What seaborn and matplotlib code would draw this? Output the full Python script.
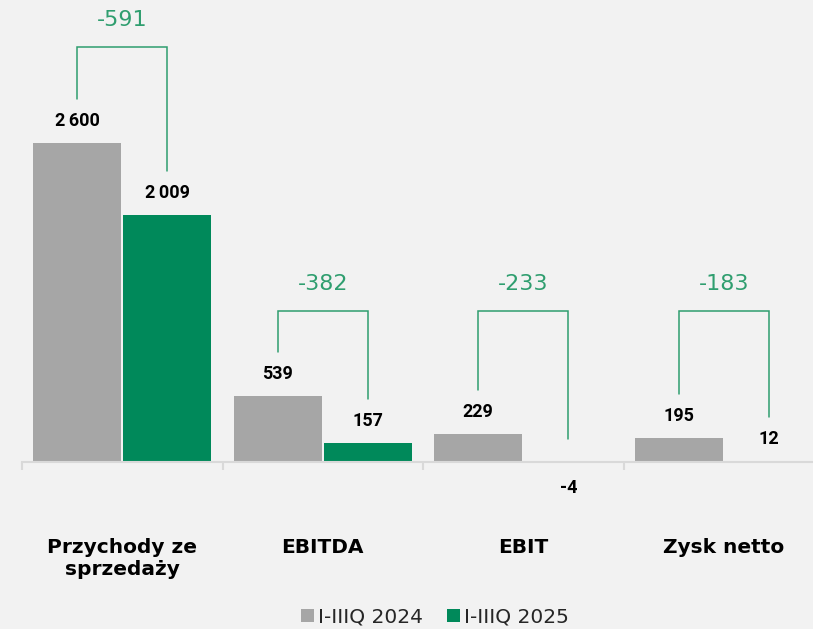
"""
Porownanie wynikow I-IIIQ 2024 vs I-IIIQ 2025 (mln zl) - wykres slupkowy z roznicami.
"""

## Import packages
import pandas as pd
import matplotlib.pyplot as plt
import seaborn as sns


## Data
categories = ['Przychody ze\nsprzedaży', 'EBITDA', 'EBIT', 'Zysk netto']
series = ['I-IIIQ 2024', 'I-IIIQ 2025']
values_2024 = [2600, 539, 229, 195]
values_2025 = [2009, 157, -4, 12]

# Long format table for seaborn
df = pd.DataFrame({
    'kategoria': categories * 2,
    'okres': [series[0]] * len(categories) + [series[1]] * len(categories),
    'wartosc': values_2024 + values_2025,
})


## Style
bg = '#f2f2f2'
gray = '#a6a6a6'
green = '#00895a'
bracket_green = '#2f9e6f'
axis_gray = '#d9d9d9'

sns.set_style('white')
plt.rcParams['font.family'] = ['DejaVu Sans']
value_font = ['Roboto', 'DejaVu Sans']


## Figure
fig = plt.figure(figsize=(8.13, 6.29), dpi=100, facecolor=bg)
ax = fig.add_axes([22 / 813, 167 / 629, 802 / 813, 462 / 629])
ax.set_facecolor(bg)

sns.barplot(ax=ax, data=df, x='kategoria', y='wartosc', hue='okres',
            palette=[gray, green], width=0.9, gap=0.025, linewidth=0,
            saturation=1, legend=True)

ax.set_xlim(-0.5, 3.5)
ax.set_ylim(0, 3765)
for bar in ax.patches:
    bar.set_clip_on(False)

# pixel -> data units on the y-axis
upp = (ax.get_ylim()[1] - ax.get_ylim()[0]) / ax.get_window_extent().height


## Value labels
for cont, vals in zip(ax.containers, [values_2024, values_2025]):
    for bar, v in zip(cont, vals):
        xc = bar.get_x() + bar.get_width() / 2
        label = f"{v:,}".replace(',', '\u2009')
        off = 22 if v >= 0 else -26
        ax.annotate(label, (xc, max(v, 0)), xytext=(0, off),
                    textcoords='offset pixels', ha='center', va='center',
                    fontsize=13, fontweight='bold', color='black',
                    family=value_font, annotation_clip=False)


## Brackets with differences
for j in range(len(categories)):
    b0 = ax.containers[0][j]
    b1 = ax.containers[1][j]
    x0 = b0.get_x() + b0.get_width() / 2
    x1 = b1.get_x() + b1.get_width() / 2
    v0, v1 = values_2024[j], values_2025[j]
    top = max(1.3 * max(v0, v1), 1230)
    y0 = max(v0, 0) + (44 if v0 > 0 else 23) * upp
    y1 = max(v1, 0) + (44 if v1 > 0 else 23) * upp
    ax.plot([x0, x0, x1, x1], [y0, top, top, y1], color=bracket_green,
            lw=1.1, solid_joinstyle='miter', clip_on=False)
    ax.annotate(f"{v1 - v0}", ((x0 + x1) / 2, top), xytext=(0, 27),
                textcoords='offset pixels', ha='center', va='center',
                fontsize=16, color=bracket_green, annotation_clip=False)


## Axes
sns.despine(ax=ax, left=True, top=True, right=True)
ax.spines['bottom'].set_color(axis_gray)
ax.spines['bottom'].set_linewidth(1.5)
ax.set_yticks([])
ax.set_ylabel('')
ax.set_xlabel('')
ax.set_xticks(range(len(categories)))
ax.set_xticklabels(categories, fontsize=14.5, fontweight='bold',
                   linespacing=1.15, color='black')
ax.set_xticks([i - 0.5 for i in range(len(categories))], minor=True)
ax.tick_params(axis='x', which='major', bottom=True, length=0, pad=55)
ax.tick_params(axis='x', which='minor', bottom=True, length=6, width=1.5,
               color=axis_gray, direction='out')


## Legend
handles, labels = ax.get_legend_handles_labels()
ax.get_legend().remove()
fig.legend(handles, labels, loc='center', bbox_to_anchor=(0.535, 0.019),
           ncol=2, frameon=False, fontsize=14.5, handlelength=0.62,
           handleheight=0.62, handletextpad=0.2, columnspacing=1.2,
           labelcolor='#262626')


# Save figure
fig.savefig('out.png', dpi=100, facecolor=bg)
